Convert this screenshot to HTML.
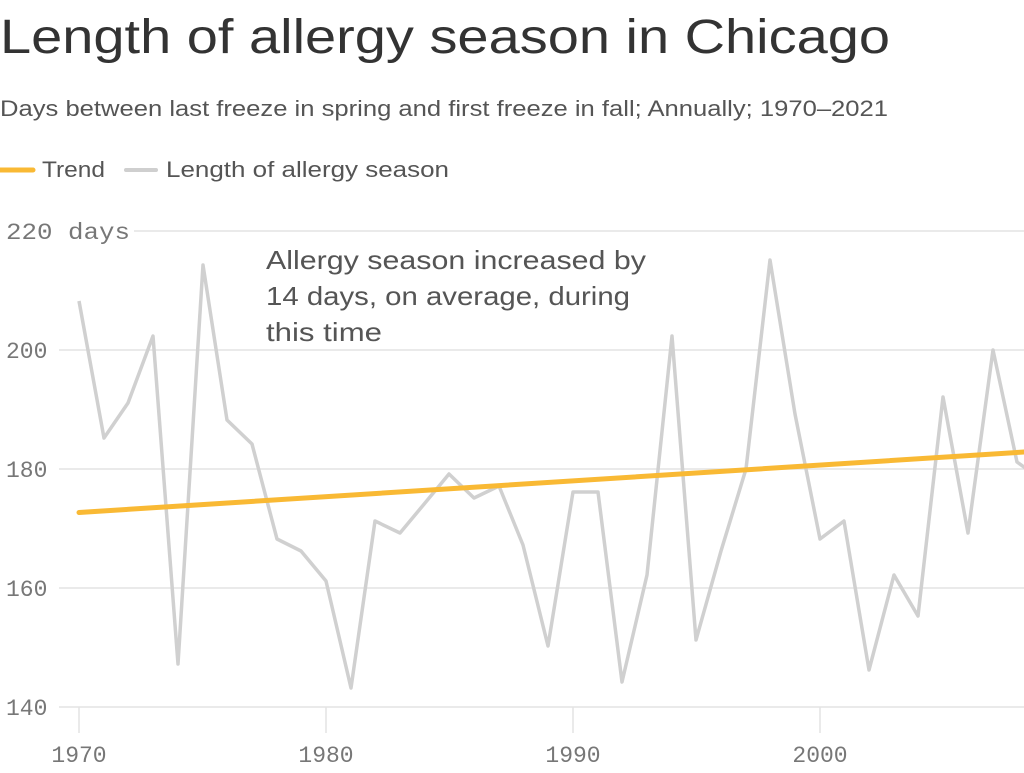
<!DOCTYPE html>
<html><head><style>
body{margin:0;background:#fff;width:1024px;height:768px;overflow:hidden;font-family:"Liberation Sans",sans-serif}
</style></head><body>
<svg width="1024" height="768" xmlns="http://www.w3.org/2000/svg">
<text x="0" y="53" font-size="48" fill="#333" font-family="Liberation Sans" textLength="890" lengthAdjust="spacingAndGlyphs">Length of allergy season in Chicago</text>
<text x="0" y="116" font-size="22" fill="#555" font-family="Liberation Sans" textLength="888" lengthAdjust="spacingAndGlyphs">Days between last freeze in spring and first freeze in fall; Annually; 1970–2021</text>
<line x1="0" y1="170" x2="33" y2="170" stroke="#f9b934" stroke-width="5" stroke-linecap="round"/>
<text x="42" y="177" font-size="22" fill="#555" font-family="Liberation Sans" textLength="63" lengthAdjust="spacingAndGlyphs">Trend</text>
<line x1="126" y1="170" x2="156" y2="170" stroke="#cfcfcf" stroke-width="4" stroke-linecap="round"/>
<text x="166" y="177" font-size="22" fill="#555" font-family="Liberation Sans" textLength="283" lengthAdjust="spacingAndGlyphs">Length of allergy season</text>
<g stroke="#e3e3e3" stroke-width="1.5">
<line x1="134" y1="231" x2="1024" y2="231"/>
<line x1="59" y1="350" x2="1024" y2="350"/>
<line x1="59" y1="469" x2="1024" y2="469"/>
<line x1="59" y1="588" x2="1024" y2="588"/>
<line x1="59" y1="707" x2="1024" y2="707"/>
<line x1="79" y1="707" x2="79" y2="733"/>
<line x1="326" y1="707" x2="326" y2="733"/>
<line x1="573" y1="707" x2="573" y2="733"/>
<line x1="820" y1="707" x2="820" y2="733"/>
</g>
<g font-family="Liberation Mono" font-size="23" fill="#777">
<text x="6" y="239" textLength="124" lengthAdjust="spacingAndGlyphs">220 days</text>
<text x="6" y="358">200</text>
<text x="6" y="477">180</text>
<text x="6" y="596">160</text>
<text x="6" y="715">140</text>
<g text-anchor="middle">
<text x="79" y="762">1970</text>
<text x="326" y="762">1980</text>
<text x="573" y="762">1990</text>
<text x="820" y="762">2000</text>
</g></g>
<polyline fill="none" stroke="#d0d0d0" stroke-width="3.5" stroke-linejoin="round" points="79,301 104,438 128,403 153,336 178,664 203,265 227,420 252,444 277,539 301,551 326,581 351,688 375,521 400,533 425,503 449,474 474,498 499,486 523,545 548,646 573,492 598,492 622,682 647,575 672,336 696,640 721,551 746,469 770,260 795,414 820,539 844,521 869,670 894,575 918,616 943,397 968,533 993,350 1017,462 1042,480"/>
<line x1="79" y1="512.5" x2="1024" y2="452" stroke="#f9b934" stroke-width="5" stroke-linecap="round"/>
<g font-family="Liberation Sans" font-size="26" fill="#555">
<text x="266" y="269" textLength="380" lengthAdjust="spacingAndGlyphs">Allergy season increased by</text>
<text x="266" y="305" textLength="364" lengthAdjust="spacingAndGlyphs">14 days, on average, during</text>
<text x="266" y="341" textLength="116" lengthAdjust="spacingAndGlyphs">this time</text>
</g>
</svg>
</body></html>
